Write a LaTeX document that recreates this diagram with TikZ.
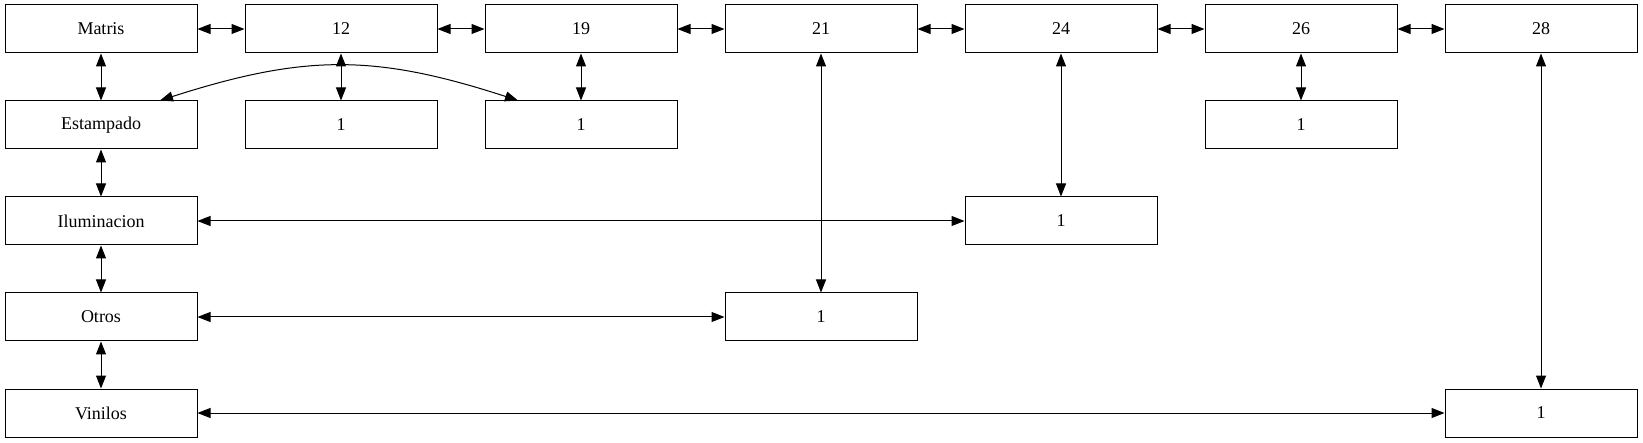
\documentclass[tikz,border=0pt]{standalone}
\usepackage{fontspec}
\setmainfont{Liberation Serif}
\usetikzlibrary{arrows.meta}
\begin{document}
\begin{tikzpicture}[x=1pt,y=-1pt,
  box/.style={draw,line width=1pt,minimum width=192pt,minimum height=48pt,inner sep=0pt,font=\fontsize{18}{21}\selectfont},
  link/.style={line width=1pt,{Triangle[length=13pt,width=10pt]}-{Triangle[length=13pt,width=10pt]}}]
\useasboundingbox (0,0) rectangle (1643,443);
% row 1
\node[box] (matris) at (101,29) {Matris};
\node[box] (c12) at (341,29) {12};
\node[box] (c19) at (581,29) {19};
\node[box] (c21) at (821,29) {21};
\node[box] (c24) at (1061,29) {24};
\node[box] (c26) at (1301,29) {26};
\node[box] (c28) at (1541,29) {28};
% left column
\node[box] (estampado) at (101,125) {Estampado};
\node[box] (ilum) at (101,221) {Iluminacion};
\node[box] (otros) at (101,317) {Otros};
\node[box] (vinilos) at (101,413) {Vinilos};
% ones
\node[box] (a12) at (341,125) {1};
\node[box] (a19) at (581,125) {1};
\node[box] (a26) at (1301,125) {1};
\node[box] (a24) at (1061,221) {1};
\node[box] (a21) at (821,317) {1};
\node[box] (a28) at (1541,413) {1};
% horizontal chain
\draw[link] (matris) -- (c12);
\draw[link] (c12) -- (c19);
\draw[link] (c19) -- (c21);
\draw[link] (c21) -- (c24);
\draw[link] (c24) -- (c26);
\draw[link] (c26) -- (c28);
% vertical chain
\draw[link] (matris) -- (estampado);
\draw[link] (estampado) -- (ilum);
\draw[link] (ilum) -- (otros);
\draw[link] (otros) -- (vinilos);
% column links
\draw[link] (c12) -- (a12);
\draw[link] (c19) -- (a19);
\draw[link] (c26) -- (a26);
\draw[link] (c24) -- (a24);
\draw[link] (c21) -- (a21);
\draw[link] (c28) -- (a28);
% row links
\draw[link] (ilum) -- (a24);
\draw[link] (otros) -- (a21);
\draw[link] (vinilos) -- (a28);
% curved
\coordinate (cs) at ([xshift=59pt]estampado.north);
\coordinate (ce) at ([xshift=-63pt]a19.north);
\draw[link] (cs) .. controls (305,54) and (375,54) .. (ce);
\end{tikzpicture}
\end{document}
